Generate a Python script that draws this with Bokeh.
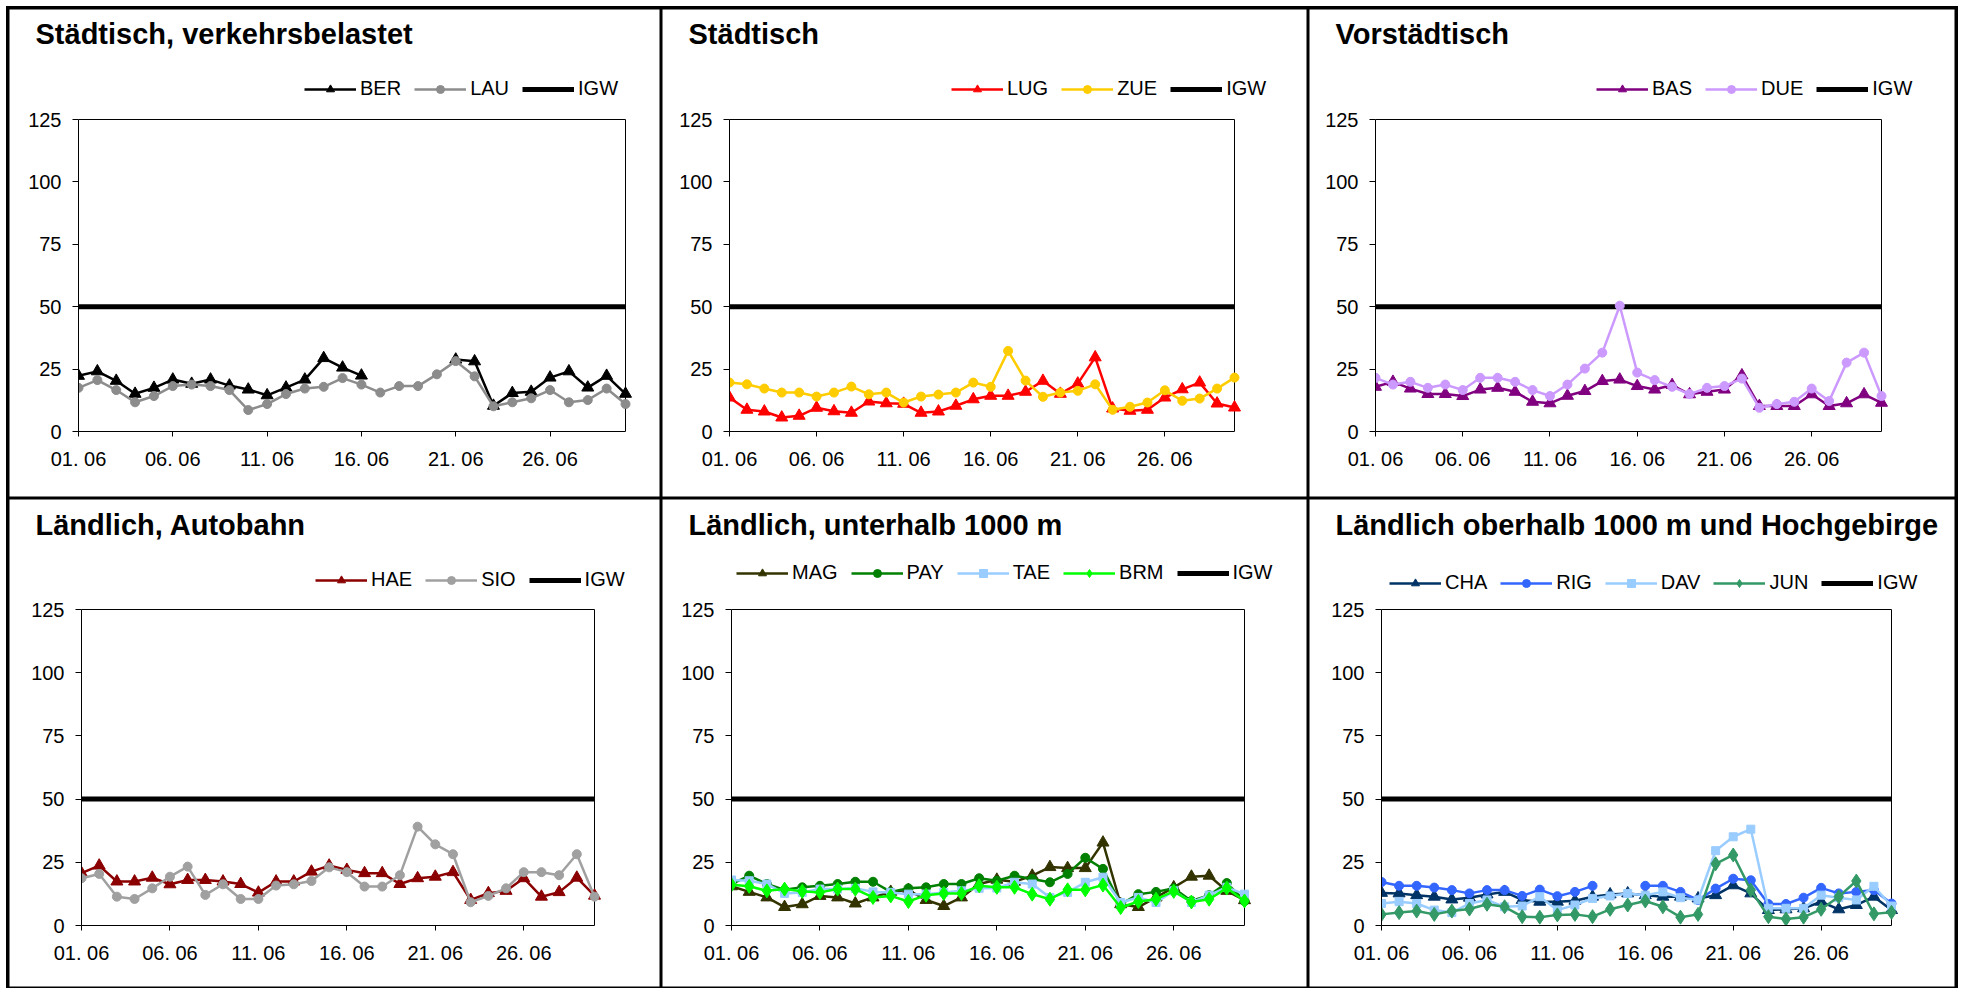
import numpy as np
from bokeh.plotting import figure
from bokeh.models import Range1d, FixedTicker, Legend, LegendItem, Spacer
from bokeh.layouts import row, column
from bokeh.embed import file_html
from bokeh.resources import INLINE

nan = float("nan")

# ---- data -------------------------------------------------------------
days = list(range(1, 31))
tick_days = [1, 6, 11, 16, 21, 26]
tick_labels = ["01. 06", "06. 06", "11. 06", "16. 06", "21. 06", "26. 06"]
y_ticks = [0, 25, 50, 75, 100, 125]
igw_value = 50
igw = [igw_value for _ in days]

BER = [22.3, 24.1, 20.3, 15.1, 17.5, 20.8, 19.1, 20.8, 18.4, 16.8, 14.5, 17.6, 20.8, 29.4, 25.6,
       22.4, nan, nan, nan, nan, 28.8, 28.1, 10.3, 15.4, 15.9, 21.6, 24.1, 17.6, 22.3, 15.1]
LAU = [17.5, 20.6, 16.6, 11.7, 14.2, 18.2, 18.8, 18.2, 16.6, 8.6, 11.0, 15.0, 17.2, 17.9, 21.4,
       18.8, 15.6, 18.2, 18.2, 22.9, 28.2, 22.1, 10.1, 11.7, 13.3, 16.6, 11.7, 12.6, 17.2, 11.0]

LUG = [13.6, 8.7, 8.0, 5.6, 6.3, 9.5, 8.1, 7.5, 12.0, 11.3, 11.1, 7.5, 8.0, 10.3, 12.9,
       14.3, 14.3, 15.9, 20.3, 15.1, 19.2, 29.7, 9.2, 8.3, 8.7, 13.6, 16.9, 19.6, 11.2, 9.6]
ZUE = [19.6, 18.9, 17.2, 15.6, 15.6, 14.0, 15.6, 18.0, 14.9, 15.6, 11.6, 14.0, 14.8, 15.6, 19.6,
       17.9, 32.3, 20.4, 13.9, 15.6, 16.3, 18.9, 8.7, 9.9, 11.6, 16.5, 12.3, 13.2, 17.2, 21.6]

BAS = [17.9, 19.9, 17.2, 15.0, 15.0, 14.2, 16.8, 17.5, 15.9, 11.9, 11.3, 14.3, 16.2, 20.2, 20.8,
       18.2, 16.8, 18.6, 14.9, 15.9, 16.8, 22.5, 10.2, 10.2, 10.2, 14.9, 10.2, 11.3, 14.9, 11.5]
DUE = [21.5, 18.8, 19.9, 17.5, 18.8, 16.6, 21.5, 21.5, 19.9, 16.6, 14.2, 18.8, 25.2, 31.6, 50.4,
       23.6, 20.6, 17.9, 15.0, 17.5, 18.2, 21.2, 9.5, 11.0, 11.9, 17.2, 12.2, 27.6, 31.6, 14.2]

HAE = [20.7, 23.7, 17.4, 17.4, 18.9, 16.3, 18.0, 18.0, 17.4, 16.4, 13.0, 17.4, 17.4, 21.3, 23.7,
       22.0, 20.7, 20.7, 16.4, 18.7, 19.3, 21.1, 10.1, 12.8, 13.7, 18.7, 11.4, 13.2, 18.9, 11.8]
SIO = [18.7, 20.4, 11.4, 10.5, 14.7, 19.3, 23.3, 12.1, 16.3, 10.5, 10.5, 15.8, 16.3, 17.6, 23.0,
       21.1, 15.4, 15.4, 19.9, 39.1, 32.1, 28.2, 9.2, 11.7, 14.7, 21.1, 21.1, 19.9, 28.2, 11.4]

MAG = [15.5, 13.3, 11.1, 7.3, 8.4, 11.7, 11.1, 8.7, 11.1, 13.3, 14.0, 10.1, 7.7, 11.1, 16.4,
       18.1, 17.3, 19.7, 23.1, 22.7, 22.7, 32.8, 8.4, 7.3, 11.1, 15.1, 19.3, 19.7, 13.7, 10.0]
PAY = [16.4, 19.7, 16.4, 14.1, 15.1, 15.7, 16.4, 17.3, 17.3, 13.3, 14.7, 15.1, 16.4, 16.4, 18.7,
       17.7, 19.7, 18.4, 17.1, 20.4, 26.8, 22.4, 8.4, 12.4, 13.3, 14.7, 9.7, 12.0, 16.8, 9.7]
TAE = [18.0, 17.7, 16.4, 12.7, 13.1, 14.4, 14.4, 14.7, 13.3, 13.1, 12.4, 12.4, 13.1, 13.7, 14.7,
       14.8, 17.1, 16.4, 11.1, 13.1, 17.1, 19.1, 9.1, 11.1, 9.1, 13.7, 9.1, 12.0, 15.1, 12.4]
BRM = [16.1, 15.5, 13.7, 14.4, 13.5, 13.1, 14.4, 14.4, 11.1, 11.7, 9.5, 12.0, 12.7, 12.7, 15.7,
       15.1, 15.1, 12.4, 10.4, 14.1, 14.1, 16.0, 7.1, 9.5, 10.4, 13.5, 9.3, 10.4, 14.8, 9.7]

CHA = [12.9, 12.7, 12.0, 11.4, 10.3, 11.0, 12.3, 13.3, 10.1, 9.4, 9.4, 9.8, 11.4, 12.3, 12.7,
       12.0, 11.4, 11.4, 10.7, 12.0, 15.9, 12.7, 6.1, 6.4, 6.8, 9.4, 6.4, 8.1, 11.4, 6.1]
RIG = [17.2, 15.7, 15.7, 15.0, 14.0, 12.7, 14.0, 14.0, 11.7, 14.2, 11.6, 13.3, 15.7, nan, nan,
       15.7, 15.7, 13.3, 10.1, 14.6, 18.5, 17.9, 8.5, 8.5, 11.0, 14.9, 12.7, 13.3, 14.0, 8.7]
DAV = [8.7, 9.4, 8.7, 6.1, 5.1, 8.7, 10.1, 7.4, 7.7, 11.4, 6.1, 8.1, 10.7, 11.7, 12.7,
       12.0, 13.3, 11.0, 10.1, 29.6, 35.1, 38.1, 6.8, 6.8, 6.8, 12.0, 11.0, 10.1, 15.5, 7.7]
JUN = [4.4, 5.1, 5.7, 4.4, 5.7, 6.5, 8.4, 7.4, 3.5, 3.3, 4.2, 4.4, 3.5, 6.4, 8.1,
       9.7, 7.4, 3.3, 4.4, 24.4, 27.9, 14.0, 3.5, 2.6, 3.3, 6.4, 11.4, 17.6, 4.6, 5.2]

titles = ["Städtisch, verkehrsbelastet", "Städtisch", "Vorstädtisch",
          "Ländlich, Autobahn", "Ländlich, unterhalb 1000 m",
          "Ländlich oberhalb 1000 m und Hochgebirge"]

panel_series = [
    [("BER", BER, "#000000", "triangle"), ("LAU", LAU, "#8c8c8c", "circle")],
    [("LUG", LUG, "#ff0000", "triangle"), ("ZUE", ZUE, "#ffcc00", "circle")],
    [("BAS", BAS, "#800080", "triangle"), ("DUE", DUE, "#cc99ff", "circle")],
    [("HAE", HAE, "#8b0000", "triangle"), ("SIO", SIO, "#a0a0a0", "circle")],
    [("MAG", MAG, "#333300", "triangle"), ("PAY", PAY, "#008000", "circle"),
     ("TAE", TAE, "#99ccff", "square"), ("BRM", BRM, "#00ff00", "diamond")],
    [("CHA", CHA, "#003366", "triangle"), ("RIG", RIG, "#3366ff", "circle"),
     ("DAV", DAV, "#99ccff", "square"), ("JUN", JUN, "#339966", "diamond")],
]

# ---- layout (pixels, relative to each cell) ---------------------------
col_w = [653, 647, 648]
row_h = [490, 490]
box_left = [70, 68, 67, 73, 70, 73]
box_right = [617, 573, 573, 586, 583, 583]
box_top = [111, 111, 111, 111, 111, 111]
box_bottom = [423, 423, 423, 427, 427, 427]
title_cy = [24, 24, 24, 25, 25, 25]
TITLE_X = 27
TITLE_H = 34
FRAME_RIGHT_PAD = 6
legend_x = [226, 222, 221, 234, 5, 8]       # legend start, from box left
legend_cy = [82, 82, 82, 83, 76, 86]        # legend centre (y) in cell
LEG_H = 20
marker_size = {"triangle": 12, "circle": 9, "square": 8, "diamond": 14}
FONT = "Liberation Sans"
cell_style = {"box-shadow": "inset 0 0 0 1.5px #000"}

figs = []
for i in range(6):
    W = col_w[i % 3]
    H = row_h[i // 3]
    L, R, T, B = box_left[i], box_right[i], box_top[i], box_bottom[i]
    frame_top = 2 * title_cy[i]
    frame_right = W - FRAME_RIGHT_PAD
    # ranges extend the data area so that the legend sits inside the frame
    y_end = y_ticks[-1] * (B - frame_top) / (B - T)
    x_end = days[0] + (days[-1] - days[0]) * (frame_right - L) / (R - L)

    p = figure(width=W, height=H, x_range=Range1d(days[0], x_end),
               y_range=Range1d(y_ticks[0], y_end),
               output_backend="svg", toolbar_location=None, title=titles[i],
               min_border_left=L, min_border_right=W - frame_right,
               min_border_top=frame_top, min_border_bottom=H - B,
               border_fill_color=None, background_fill_color=None,
               outline_line_color=None, styles=cell_style)
    p.xgrid.visible = False
    p.ygrid.visible = False
    p.xaxis.ticker = FixedTicker(ticks=tick_days)
    p.xaxis.major_label_overrides = {d: l for d, l in zip(tick_days, tick_labels)}
    p.yaxis.ticker = FixedTicker(ticks=y_ticks)
    p.xaxis.bounds = (days[0], days[-1])
    p.yaxis.bounds = (y_ticks[0], y_ticks[-1])
    p.axis.minor_tick_line_color = None
    p.axis.major_tick_in = 0
    p.xaxis.major_tick_out = 5
    p.yaxis.major_tick_out = 6
    p.axis.axis_line_color = "black"
    p.axis.major_tick_line_color = "black"
    p.axis.major_label_text_font = FONT
    p.axis.major_label_text_font_size = "20px"
    p.axis.major_label_text_color = "black"
    p.xaxis.major_label_standoff = 11
    p.yaxis.major_label_standoff = 11

    p.title.text_font = FONT
    p.title.text_font_size = "29px"
    p.title.text_font_style = "bold"
    p.title.text_color = "black"
    p.title.align = "left"
    p.title.vertical_align = "middle"
    p.title.offset = TITLE_X - L
    p.title.standoff = frame_top - 2 - TITLE_H

    # plot area box
    p.quad(left=days[0], right=days[-1], bottom=y_ticks[0], top=y_ticks[-1],
           fill_color="white", line_color="black", line_width=1)

    ig = p.line(days, igw, line_color="black", line_width=5)
    items = []
    for name, vals, color, marker in panel_series[i]:
        arr = np.array(vals, dtype=float)
        l = p.line(days, arr, line_color=color, line_width=2.5)
        s = p.scatter(days, arr, marker=marker, size=marker_size[marker],
                      fill_color=color, line_color=color)
        items.append(LegendItem(label=name, renderers=[l, s]))
    items.append(LegendItem(label="IGW", renderers=[ig]))

    legend = Legend(items=items, orientation="horizontal",
                    location=(legend_x[i], (B - legend_cy[i]) - LEG_H / 2),
                    border_line_color=None, background_fill_alpha=0,
                    padding=0, margin=0, spacing=13, glyph_width=52,
                    glyph_height=LEG_H, label_height=LEG_H, label_standoff=4,
                    label_text_font=FONT, label_text_font_size="20px",
                    label_text_color="black")
    p.add_layout(legend)
    figs.append(p)

body = column(row(figs[0], figs[1], figs[2], spacing=0),
              row(figs[3], figs[4], figs[5], spacing=0),
              spacing=0, styles={"box-shadow": "0 0 0 2px #000"})
page = column(Spacer(height=8), row(Spacer(width=8), body, spacing=0), spacing=0)
open("out.html", "w").write(file_html(page, INLINE))
